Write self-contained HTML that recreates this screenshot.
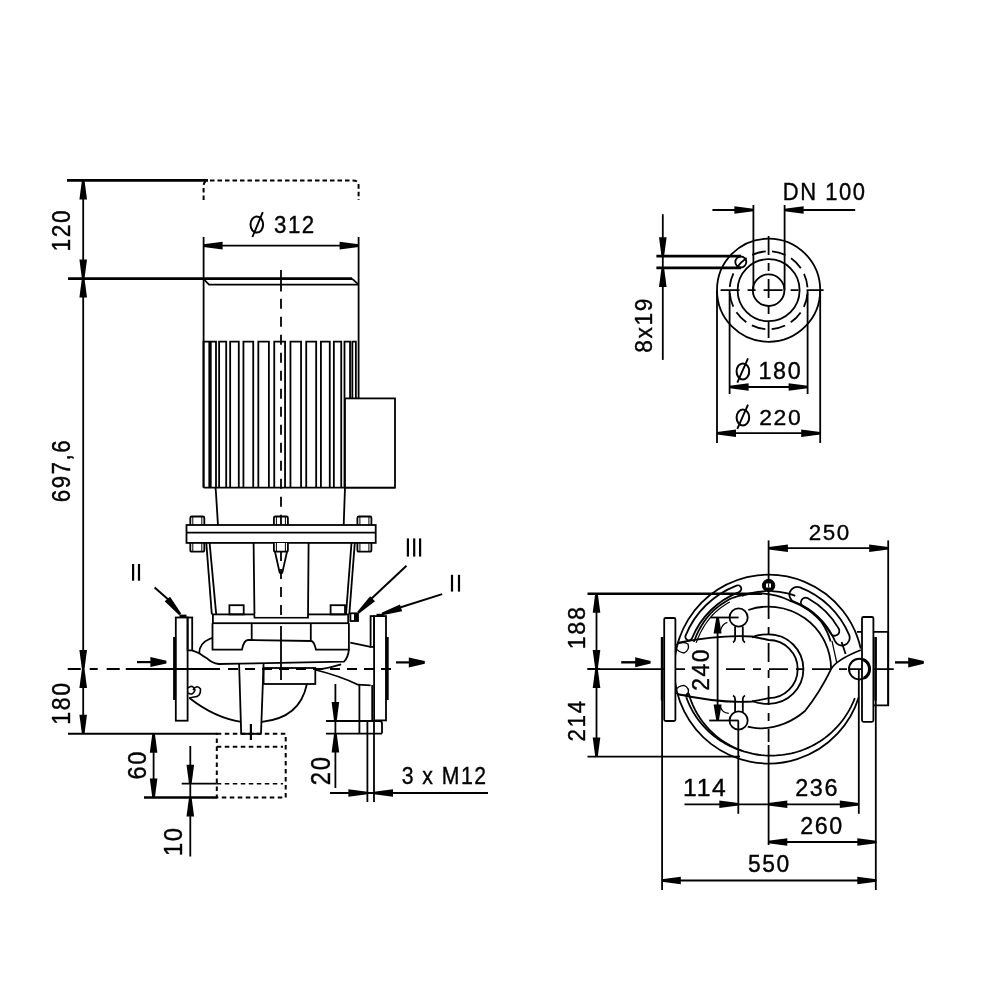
<!DOCTYPE html>
<html><head><meta charset="utf-8"><style>
html,body{margin:0;padding:0;background:#fff;width:1000px;height:1000px;overflow:hidden}
svg{display:block;will-change:transform}
text{font-family:"Liberation Sans",sans-serif;fill:#000;stroke:#000;stroke-width:1.6px}
</style></head><body>
<svg width="1000" height="1000" viewBox="0 0 1000 1000" stroke="#000" fill="none" stroke-linecap="butt">
<line x1="83.20" y1="180.40" x2="83.20" y2="733.80" stroke-width="1.8" />
<line x1="67.00" y1="180.40" x2="208.00" y2="180.40" stroke-width="2.7" />
<line x1="68.00" y1="278.60" x2="352.00" y2="278.60" stroke-width="2.7" />
<path d="M352,278.6 L358.6,284.6" stroke-width="1.8" fill="none" />
<path d="M203.6,279 L209,284.6 L358.6,284.6" stroke-width="1.8" fill="none" />
<path d="M84.50,180.40 L87.00,199.40 L79.40,199.40 L81.90,180.40 Z" fill="#000" stroke="none"/>
<path d="M81.90,278.60 L79.40,259.60 L87.00,259.60 L84.50,278.60 Z" fill="#000" stroke="none"/>
<path d="M84.50,278.60 L87.00,297.60 L79.40,297.60 L81.90,278.60 Z" fill="#000" stroke="none"/>
<path d="M81.90,669.00 L79.40,650.00 L87.00,650.00 L84.50,669.00 Z" fill="#000" stroke="none"/>
<path d="M84.50,669.00 L87.00,688.00 L79.40,688.00 L81.90,669.00 Z" fill="#000" stroke="none"/>
<path d="M81.90,733.80 L79.40,714.80 L87.00,714.80 L84.50,733.80 Z" fill="#000" stroke="none"/>
<path d="M210,180.4 L353,180.4 Q358.6,180.4 358.6,186 L358.6,200" stroke-width="2" fill="none" stroke-dasharray="4.5,3"/>
<path d="M203.6,200 L203.6,186 Q203.6,181 208,180.4" stroke-width="2" fill="none" stroke-dasharray="4.5,3"/>
<line x1="203.60" y1="237.00" x2="203.60" y2="487.60" stroke-width="1.8" />
<line x1="358.60" y1="237.00" x2="358.60" y2="487.60" stroke-width="1.8" />
<line x1="203.60" y1="245.60" x2="358.60" y2="245.60" stroke-width="1.8" />
<path d="M203.60,244.30 L222.60,241.80 L222.60,249.40 L203.60,246.90 Z" fill="#000" stroke="none"/>
<path d="M358.60,246.90 L339.60,249.40 L339.60,241.80 L358.60,244.30 Z" fill="#000" stroke="none"/>
<line x1="281.00" y1="269.90" x2="281.00" y2="291.50" stroke-width="1.8" />
<line x1="281.00" y1="298.70" x2="281.00" y2="616.00" stroke-width="1.8" stroke-dasharray="10,8"/>
<path d="M203.50,487.6 L203.50,341.7 L209.30,341.7 L209.30,487.6" stroke-width="1.8" fill="none" />
<path d="M210.76,487.6 L210.76,341.7 L216.00,341.7 L216.00,487.6" stroke-width="1.8" fill="none" />
<path d="M219.11,487.6 L219.11,341.7 L226.20,341.7 L226.20,487.6" stroke-width="1.8" fill="none" />
<path d="M230.16,487.6 L230.16,341.7 L238.79,341.7 L238.79,487.6" stroke-width="1.8" fill="none" />
<path d="M243.43,487.6 L243.43,341.7 L253.23,341.7 L253.23,487.6" stroke-width="1.8" fill="none" />
<path d="M258.34,487.6 L258.34,341.7 L268.88,341.7 L268.88,487.6" stroke-width="1.8" fill="none" />
<path d="M274.25,487.6 L274.25,341.7 L285.06,341.7 L285.06,487.6" stroke-width="1.8" fill="none" />
<path d="M290.44,487.6 L290.44,341.7 L301.06,341.7 L301.06,487.6" stroke-width="1.8" fill="none" />
<path d="M306.23,487.6 L306.23,341.7 L316.18,341.7 L316.18,487.6" stroke-width="1.8" fill="none" />
<path d="M320.92,487.6 L320.92,341.7 L329.77,341.7 L329.77,487.6" stroke-width="1.8" fill="none" />
<path d="M333.85,487.6 L333.85,341.7 L341.23,341.7 L341.23,487.6" stroke-width="1.8" fill="none" />
<path d="M344.48,487.6 L344.48,341.7 L350.05,341.7 L350.05,487.6" stroke-width="1.8" fill="none" />
<path d="M352.34,487.6 L352.34,341.7 L355.86,341.7 L355.86,487.6" stroke-width="1.8" fill="none" />
<line x1="203.60" y1="487.60" x2="395.00" y2="487.60" stroke-width="1.8" />
<rect x="345.00" y="398.40" width="50.00" height="89.20" rx="0" stroke-width="1.8" fill="#fff" />
<line x1="215.60" y1="487.60" x2="218.00" y2="525.00" stroke-width="1.8" />
<line x1="345.00" y1="487.60" x2="343.70" y2="525.00" stroke-width="1.8" />
<rect x="186.50" y="525.00" width="189.20" height="17.90" rx="0" stroke-width="1.8" fill="#fff" />
<line x1="186.50" y1="532.60" x2="375.70" y2="532.60" stroke-width="1.8" />
<path d="M190.3,525 L190.3,518 Q190.3,516.5 191.8,516.5 L202.8,516.5 Q204.3,516.5 204.3,518 L204.3,525" stroke-width="1.8" fill="none" />
<line x1="192.80" y1="517.00" x2="192.80" y2="525.00" stroke-width="1" />
<line x1="201.80" y1="517.00" x2="201.80" y2="525.00" stroke-width="1" />
<path d="M190.3,542.9 L190.3,550 Q190.3,551.7 191.8,551.7 L202.8,551.7 Q204.3,551.7 204.3,550 L204.3,542.9" stroke-width="1.8" fill="none" />
<line x1="192.80" y1="543.00" x2="192.80" y2="551.00" stroke-width="1" />
<line x1="201.80" y1="543.00" x2="201.80" y2="551.00" stroke-width="1" />
<path d="M273.9,525 L273.9,518 Q273.9,516.5 275.4,516.5 L286.4,516.5 Q287.9,516.5 287.9,518 L287.9,525" stroke-width="1.8" fill="none" />
<line x1="276.40" y1="517.00" x2="276.40" y2="525.00" stroke-width="1" />
<line x1="285.40" y1="517.00" x2="285.40" y2="525.00" stroke-width="1" />
<path d="M273.9,542.9 L273.9,550 Q273.9,551.7 275.4,551.7 L286.4,551.7 Q287.9,551.7 287.9,550 L287.9,542.9" stroke-width="1.8" fill="none" />
<line x1="276.40" y1="543.00" x2="276.40" y2="551.00" stroke-width="1" />
<line x1="285.40" y1="543.00" x2="285.40" y2="551.00" stroke-width="1" />
<path d="M357.4,525 L357.4,518 Q357.4,516.5 358.9,516.5 L369.9,516.5 Q371.4,516.5 371.4,518 L371.4,525" stroke-width="1.8" fill="none" />
<line x1="359.90" y1="517.00" x2="359.90" y2="525.00" stroke-width="1" />
<line x1="368.90" y1="517.00" x2="368.90" y2="525.00" stroke-width="1" />
<path d="M357.4,542.9 L357.4,550 Q357.4,551.7 358.9,551.7 L369.9,551.7 Q371.4,551.7 371.4,550 L371.4,542.9" stroke-width="1.8" fill="none" />
<line x1="359.90" y1="543.00" x2="359.90" y2="551.00" stroke-width="1" />
<line x1="368.90" y1="543.00" x2="368.90" y2="551.00" stroke-width="1" />
<line x1="206.30" y1="542.90" x2="211.80" y2="614.40" stroke-width="1.8" />
<line x1="209.60" y1="542.90" x2="216.20" y2="614.40" stroke-width="1.8" />
<line x1="354.80" y1="542.90" x2="349.30" y2="614.40" stroke-width="1.8" />
<line x1="351.50" y1="542.90" x2="346.00" y2="614.40" stroke-width="1.8" />
<rect x="212.90" y="614.40" width="135.30" height="8.80" rx="0" stroke-width="1.8" fill="#fff" />
<path d="M253.6,542.9 L254.5,617.7 L308,617.7 L308.6,542.9 Z" stroke-width="1.8" fill="#fff" />
<path d="M255.5,615.2 L307,615.2" stroke-width="3" fill="none" stroke="#fff"/>
<path d="M273.9,542.9 L273.9,550 Q273.9,551.7 275.4,551.7 L286.4,551.7 Q287.9,551.7 287.9,550 L287.9,542.9" stroke-width="1.8" fill="#fff" />
<line x1="276.40" y1="543.00" x2="276.40" y2="551.00" stroke-width="1" />
<line x1="285.40" y1="543.00" x2="285.40" y2="551.00" stroke-width="1" />
<line x1="281.00" y1="551.00" x2="281.00" y2="616.00" stroke-width="1.8" stroke-dasharray="10,8"/>
<line x1="281.00" y1="626.00" x2="281.00" y2="680.00" stroke-width="1.8" />
<path d="M275,551.7 L279.5,572 Q281,575 282.5,572 L287,551.7" stroke-width="1.8" fill="none" />
<rect x="229.40" y="605.20" width="14.30" height="9.20" rx="0" stroke-width="1.8" fill="none" />
<rect x="330.60" y="605.20" width="14.40" height="9.20" rx="0" stroke-width="1.8" fill="none" />
<rect x="350.40" y="613.30" width="7.60" height="7.70" rx="0" stroke-width="1.8" fill="none" />
<rect x="354.00" y="613.50" width="4.00" height="7.30" rx="0" stroke-width="0" fill="#000" />
<path d="M212.5,623.2 L212.5,649.7 L241.9,649.7 Q244,640 248,640 L311,641 Q314,641 316,649.7 L348.9,649.7 L348.9,623.2" stroke-width="1.8" fill="none" />
<line x1="251.70" y1="623.20" x2="251.70" y2="640.00" stroke-width="1.8" />
<line x1="310.80" y1="623.20" x2="310.80" y2="641.00" stroke-width="1.8" />
<path d="M192.2,650.4 L199.2,653.2 Q203,656 207.6,658.8 Q212,663 218.8,664 L239.8,663.7 L344,661.6 Q348,658 348.9,649.7" stroke-width="1.8" fill="none" />
<path d="M199.2,653.2 Q199,643.4 210.4,638.5 L212.5,638" stroke-width="1.8" fill="none" />
<path d="M341.2,664.4 Q330,668 316,670" stroke-width="1.8" fill="none" />
<rect x="263.60" y="668.00" width="51.70" height="16.00" rx="0" stroke-width="1.8" fill="none" />
<line x1="239.10" y1="663.70" x2="241.20" y2="733.80" stroke-width="1.8" />
<line x1="263.60" y1="663.00" x2="261.00" y2="733.80" stroke-width="1.8" />
<path d="M189.4,698 Q215,718 241.2,721.8" stroke-width="1.8" fill="none" />
<path d="M306.9,684 Q300,718 262,721.8" stroke-width="1.8" fill="none" />
<path d="M188,688 Q193,684 195,690 Q193,696 188,693 M193,690 Q197,684 200.5,689 Q201,697 194,697 L189,698" stroke-width="1.6" fill="none" />
<line x1="370.60" y1="646.90" x2="350.30" y2="642.70" stroke-width="1.8" />
<path d="M316,670 Q340,676 358,684.7 L370.6,685.4" stroke-width="1.8" fill="none" />
<line x1="359.40" y1="685.00" x2="359.40" y2="733.70" stroke-width="1.8" />
<path d="M359.4,721 L380,721 Q382,721 382,724 L382,733.6" stroke-width="1.8" fill="none" />
<rect x="175.80" y="617.50" width="11.80" height="103.20" rx="0" stroke-width="1.8" fill="#fff" />
<line x1="174.60" y1="637.00" x2="174.60" y2="700.00" stroke-width="3" />
<rect x="187.60" y="617.50" width="4.60" height="32.90" rx="0" stroke-width="1.8" fill="none" />
<rect x="374.10" y="616.10" width="11.90" height="104.30" rx="0" stroke-width="1.8" fill="#fff" />
<line x1="387.20" y1="637.00" x2="387.20" y2="700.00" stroke-width="3" />
<rect x="370.60" y="616.10" width="3.50" height="30.80" rx="0" stroke-width="1.8" fill="none" />
<line x1="372.20" y1="685.00" x2="372.20" y2="720.40" stroke-width="1.8" />
<line x1="67.70" y1="669.00" x2="125.80" y2="669.00" stroke-width="1.8" stroke-dasharray="13,9,8,9"/>
<line x1="125.80" y1="669.00" x2="220.00" y2="669.00" stroke-width="1.8" />
<line x1="228.00" y1="669.00" x2="392.00" y2="669.00" stroke-width="1.8" stroke-dasharray="10,7"/>
<line x1="137.00" y1="662.10" x2="155.00" y2="662.10" stroke-width="2.2" />
<path d="M166.40,663.40 L150.40,667.10 L150.40,657.10 L166.40,660.80 Z" fill="#000" stroke="none"/>
<line x1="396.00" y1="662.40" x2="412.00" y2="662.40" stroke-width="2.2" />
<path d="M424.80,663.70 L408.80,667.40 L408.80,657.40 L424.80,661.10 Z" fill="#000" stroke="none"/>
<line x1="154.60" y1="587.40" x2="170.00" y2="601.00" stroke-width="2" />
<path d="M179.20,615.24 L164.67,601.32 L170.04,596.82 L181.20,613.56 Z" fill="#000" stroke="none"/>
<line x1="406.50" y1="565.70" x2="370.00" y2="600.00" stroke-width="2" />
<path d="M357.29,611.67 L370.12,596.16 L374.99,601.19 L359.11,613.53 Z" fill="#000" stroke="none"/>
<line x1="442.20" y1="594.10" x2="400.00" y2="607.50" stroke-width="2" />
<path d="M381.60,612.76 L399.96,604.53 L402.11,611.19 L382.40,615.24 Z" fill="#000" stroke="none"/>
<line x1="68.00" y1="733.80" x2="216.80" y2="733.80" stroke-width="1.9" />
<path d="M216.8,733.8 L285.7,733.8 L285.7,797.5 L216.8,797.5 Z" stroke-width="2" fill="none" stroke-dasharray="4.5,3.5"/>
<line x1="216.80" y1="746.80" x2="283.00" y2="746.80" stroke-width="2" stroke-dasharray="4.5,3.5"/>
<line x1="216.80" y1="783.70" x2="283.00" y2="783.70" stroke-width="1.6" stroke-dasharray="4.5,3.5"/>
<line x1="240.50" y1="733.80" x2="261.50" y2="733.80" stroke-width="2" />
<line x1="144.00" y1="797.50" x2="216.80" y2="797.50" stroke-width="2.7" />
<line x1="181.70" y1="783.70" x2="216.80" y2="783.70" stroke-width="1.8" />
<line x1="250.90" y1="724.00" x2="250.90" y2="740.00" stroke-width="2.2" />
<line x1="153.60" y1="733.80" x2="153.60" y2="797.50" stroke-width="1.8" />
<path d="M154.90,733.80 L157.40,752.80 L149.80,752.80 L152.30,733.80 Z" fill="#000" stroke="none"/>
<path d="M152.30,797.50 L149.80,778.50 L157.40,778.50 L154.90,797.50 Z" fill="#000" stroke="none"/>
<line x1="190.30" y1="746.00" x2="190.30" y2="856.50" stroke-width="1.8" />
<path d="M189.00,783.70 L186.50,764.70 L194.10,764.70 L191.60,783.70 Z" fill="#000" stroke="none"/>
<path d="M191.60,797.50 L194.10,816.50 L186.50,816.50 L189.00,797.50 Z" fill="#000" stroke="none"/>
<line x1="326.00" y1="721.00" x2="382.00" y2="721.00" stroke-width="1.8" />
<line x1="326.00" y1="733.60" x2="382.00" y2="733.60" stroke-width="1.8" />
<line x1="335.40" y1="684.00" x2="335.40" y2="788.00" stroke-width="1.8" />
<path d="M334.10,721.00 L331.60,702.00 L339.20,702.00 L336.70,721.00 Z" fill="#000" stroke="none"/>
<path d="M336.70,733.60 L339.20,752.60 L331.60,752.60 L334.10,733.60 Z" fill="#000" stroke="none"/>
<line x1="367.40" y1="720.00" x2="367.40" y2="802.00" stroke-width="1.8" />
<line x1="374.00" y1="720.00" x2="374.00" y2="802.00" stroke-width="1.8" />
<line x1="330.00" y1="793.00" x2="488.00" y2="793.00" stroke-width="1.8" />
<path d="M367.40,794.30 L348.40,796.80 L348.40,789.20 L367.40,791.70 Z" fill="#000" stroke="none"/>
<path d="M374.00,791.70 L393.00,789.20 L393.00,796.80 L374.00,794.30 Z" fill="#000" stroke="none"/>
<circle cx="768.60" cy="290.20" r="51.60" stroke-width="1.8" fill="none" />
<circle cx="768.60" cy="290.20" r="39.00" stroke-width="1.8" fill="none" stroke-dasharray="14,6.42" stroke-dashoffset="17.21"/>
<circle cx="768.60" cy="290.20" r="31.00" stroke-width="1.8" fill="none" />
<circle cx="768.60" cy="290.20" r="15.80" stroke-width="1.8" fill="none" />
<circle cx="740.80" cy="262.00" r="5.50" stroke-width="1.8" fill="none" />
<line x1="720.60" y1="290.20" x2="823.60" y2="290.20" stroke-width="1.8" stroke-dasharray="19,8,8,8"/>
<line x1="768.60" y1="236.00" x2="768.60" y2="338.00" stroke-width="1.8" stroke-dasharray="19,8,8,8"/>
<line x1="753.40" y1="205.00" x2="753.40" y2="290.20" stroke-width="1.8" />
<line x1="784.60" y1="205.00" x2="784.60" y2="290.20" stroke-width="1.8" />
<line x1="712.40" y1="210.00" x2="753.40" y2="210.00" stroke-width="1.8" />
<line x1="784.60" y1="210.00" x2="855.20" y2="210.00" stroke-width="1.8" />
<path d="M753.40,211.30 L734.40,213.80 L734.40,206.20 L753.40,208.70 Z" fill="#000" stroke="none"/>
<path d="M784.60,208.70 L803.60,206.20 L803.60,213.80 L784.60,211.30 Z" fill="#000" stroke="none"/>
<line x1="656.40" y1="256.20" x2="741.00" y2="256.20" stroke-width="2.7" />
<line x1="656.40" y1="267.90" x2="741.00" y2="267.90" stroke-width="2.7" />
<line x1="662.80" y1="214.20" x2="662.80" y2="359.90" stroke-width="1.8" />
<path d="M661.50,256.20 L659.00,237.20 L666.60,237.20 L664.10,256.20 Z" fill="#000" stroke="none"/>
<path d="M664.10,267.90 L666.60,286.90 L659.00,286.90 L661.50,267.90 Z" fill="#000" stroke="none"/>
<line x1="729.60" y1="290.20" x2="729.60" y2="394.00" stroke-width="1.8" />
<line x1="807.60" y1="290.20" x2="807.60" y2="394.00" stroke-width="1.8" />
<line x1="729.60" y1="387.00" x2="807.60" y2="387.00" stroke-width="1.8" />
<path d="M729.60,385.70 L748.60,383.20 L748.60,390.80 L729.60,388.30 Z" fill="#000" stroke="none"/>
<path d="M807.60,388.30 L788.60,390.80 L788.60,383.20 L807.60,385.70 Z" fill="#000" stroke="none"/>
<line x1="717.00" y1="290.20" x2="717.00" y2="443.00" stroke-width="1.8" />
<line x1="820.20" y1="290.20" x2="820.20" y2="443.00" stroke-width="1.8" />
<line x1="717.00" y1="433.20" x2="820.20" y2="433.20" stroke-width="1.8" />
<path d="M717.00,431.90 L736.00,429.40 L736.00,437.00 L717.00,434.50 Z" fill="#000" stroke="none"/>
<path d="M820.20,434.50 L801.20,437.00 L801.20,429.40 L820.20,431.90 Z" fill="#000" stroke="none"/>
<line x1="587.50" y1="593.70" x2="762.00" y2="593.70" stroke-width="2.4" />
<line x1="587.50" y1="668.90" x2="600.00" y2="668.90" stroke-width="1.8" />
<line x1="587.50" y1="756.60" x2="740.00" y2="756.60" stroke-width="1.8" />
<line x1="596.50" y1="593.70" x2="596.50" y2="756.60" stroke-width="1.8" />
<path d="M597.80,593.70 L600.30,612.70 L592.70,612.70 L595.20,593.70 Z" fill="#000" stroke="none"/>
<path d="M595.20,668.90 L592.70,649.90 L600.30,649.90 L597.80,668.90 Z" fill="#000" stroke="none"/>
<path d="M597.80,668.90 L600.30,687.90 L592.70,687.90 L595.20,668.90 Z" fill="#000" stroke="none"/>
<path d="M595.20,756.60 L592.70,737.60 L600.30,737.60 L597.80,756.60 Z" fill="#000" stroke="none"/>
<line x1="587.50" y1="669.10" x2="685.00" y2="669.10" stroke-width="1.8" />
<line x1="726.00" y1="669.10" x2="850.00" y2="669.10" stroke-width="1.8" stroke-dasharray="19,8,8,8"/>
<line x1="850.00" y1="669.10" x2="893.80" y2="669.10" stroke-width="1.8" />
<line x1="768.60" y1="540.40" x2="768.60" y2="600.00" stroke-width="1.8" />
<line x1="768.60" y1="600.00" x2="768.60" y2="742.00" stroke-width="1.8" stroke-dasharray="19,8,8,8"/>
<line x1="768.60" y1="745.00" x2="768.60" y2="845.00" stroke-width="1.8" />
<path d="M860.76,648.67 A94.4,94.4 0 1 0 858.73,697.17" stroke-width="1.8" fill="none" />
<path d="M830.67,641.47 L829.93,639.19 L829.13,636.91 L828.25,634.66 L827.28,632.43 L826.23,630.22 L825.10,628.05 L823.89,625.91 L822.59,623.80 L821.21,621.73 L819.56,619.89 L817.85,618.10 L816.07,616.38 L814.23,614.72 L812.33,613.12 L810.38,611.60 L808.37,610.13 L806.32,608.74 L804.21,607.42 L802.06,606.18 L799.86,605.00 L797.62,603.91 L795.35,602.89 L793.04,601.96 L790.69,601.10 L788.42,600.00 L786.09,598.97 L783.71,598.02 L781.29,597.15 L778.82,596.37 L776.32,595.67 L773.78,595.06 L771.20,594.53 L768.60,594.10 L765.97,593.79 L763.32,593.57 L760.65,593.45 L757.96,593.42 L755.27,593.48 L752.56,593.64 L749.85,593.90 L747.14,594.26 L744.43,594.71 L741.73,595.27 L739.03,595.92 L736.35,596.67 L733.69,597.52 L731.04,598.46 L728.58,599.78 L726.16,601.18 L723.79,602.66 L721.47,604.23 L719.20,605.87 L717.00,607.60 L714.85,609.40 L712.77,611.28 L710.79,613.28 L708.94,615.38 L707.16,617.55 L705.46,619.77 L703.84,622.05 L702.30,624.38 L700.85,626.76 L699.48,629.19 L698.20,631.67 L697.01,634.18 L695.90,636.73 L694.89,639.32 L693.71,641.84" stroke-width="1.8" fill="none" />
<path d="M729.83,601.94 L727.48,603.30 L725.18,604.73 L722.94,606.25 L720.74,607.84 L718.60,609.52 L716.52,611.26 L714.50,613.08 L712.59,615.01 L710.80,617.05 L709.08,619.15 L707.43,621.31 L705.86,623.52 L704.37,625.78 L702.97,628.09 L701.64,630.44 L700.41,632.84 L699.25,635.28 L698.19,637.75 L697.21,640.26 L696.06,642.70" stroke-width="1.2" fill="none" />
<path d="M688.84,693.48 L689.56,696.33 L690.48,699.11 L691.50,701.85 L692.61,704.57 L693.82,707.25 L695.13,709.88 L696.53,712.47 L698.02,715.01 L699.60,717.51 L701.27,719.94 L703.02,722.32 L704.86,724.64 L706.78,726.90 L708.78,729.09 L710.85,731.21 L713.01,733.25 L715.23,735.23 L717.53,737.12 L719.89,738.94 L722.32,740.67 L724.81,742.32 L727.35,743.89 L729.96,745.36 L732.61,746.74 L735.32,748.03 L738.07,749.22 L740.87,750.31 L743.71,751.30 L746.58,752.20 L749.49,752.99 L752.42,753.68 L755.38,754.26 L758.36,754.75 L761.36,755.13 L764.37,755.40 L767.39,755.57 L770.42,755.63 L773.45,755.59 L776.48,755.44 L779.51,755.18 L782.53,754.86 L785.55,754.45 L788.56,753.93 L791.55,753.31 L794.52,752.58 L797.47,751.75 L800.39,750.81 L803.29,749.77 L806.15,748.63 L808.97,747.38 L811.75,746.04 L814.48,744.59 L817.17,743.05 L819.80,741.42 L822.38,739.69 L824.90,737.86 L827.36,735.95 L829.76,733.95 L832.09,731.86 L834.34,729.69 L836.52,727.44 L838.63,725.11 L840.65,722.71 L842.59,720.23 L844.45,717.68 L846.21,715.06 L847.89,712.38 L849.48,709.64 L850.97,706.84 L852.36,703.99 L853.65,701.08 L854.85,698.13" stroke-width="1.8" fill="none" />
<path d="M686.34,697.42 L687.29,699.93 L688.31,702.41 L689.41,704.86 L690.58,707.26 L691.83,709.63 L693.15,711.96 L694.54,714.25 L696.00,716.49 L697.52,718.68 L699.12,720.83 L700.77,722.92 L702.49,724.96 L704.28,726.95 L706.12,728.88 L708.02,730.75 L709.97,732.56 L711.98,734.31 L714.04,736.00 L716.15,737.62 L718.31,739.17 L720.52,740.66 L722.77,742.07 L725.06,743.42 L727.39,744.69 L729.75,745.89 L732.15,747.02 L734.59,748.07 L737.05,749.05 L739.55,749.93 L742.07,750.75" stroke-width="1.8" fill="none" />
<path d="M688.84,693.48 Q686.09,692.95 686.34,697.42" stroke-width="1.8" fill="none" />
<path d="M748.25,610.01 A62.5,62.5 0 0 1 831.10,669.10" stroke-width="1.8" fill="none" />
<path d="M860.8,650 Q836,660 831.1,669.1 Q820,692 805,711 Q785,728 760,728.4 Q752,728 747.7,726.7" stroke-width="1.8" fill="none" />
<path d="M677,643 Q720,634.5 752,636.5 Q760,638 768.6,640 A29,29 0 0 1 768.6,698.2 Q760,700 752,701.5 Q720,703.5 677,694" stroke-width="1.8" fill="none" />
<path d="M752,637.5 Q758,634.3 768.6,634.3 A34.8,34.8 0 0 1 768.6,703.9 Q758,703.9 752,701" stroke-width="1.8" fill="none" />
<path d="M736.53,585.54 A89.5,89.5 0 0 0 685.62,635.57 A3.5,3.5 0 0 0 692.11,638.19 A82.5,82.5 0 0 1 739.03,592.08 A3.5,3.5 0 0 0 736.53,585.54 Z" stroke-width="1.8" fill="none" />
<path d="M799.96,587.41 A87.5,87.5 0 0 1 849.14,634.91 A7.75,7.75 0 0 1 834.88,640.97 A72,72 0 0 0 794.40,601.88 A7.75,7.75 0 0 1 799.96,587.41 Z" stroke-width="1.8" fill="none" />
<path d="M807.87,598.26 A81,81 0 0 1 838.75,628.60 A4.75,4.75 0 0 1 830.52,633.35 A71.5,71.5 0 0 0 803.26,606.56 A4.75,4.75 0 0 1 807.87,598.26 Z" stroke-width="1.8" fill="none" />
<path d="M771.32,591.15 L774.04,591.29 L776.75,591.53 L779.46,591.86 L782.14,592.28 L784.82,592.80 L787.47,593.42 L790.10,594.12 L792.70,594.92 L795.28,595.80" stroke-width="1.8" fill="none" />
<path d="M765.88,591.15 L763.16,591.29 L760.45,591.53 L757.74,591.86 L755.06,592.28 L752.38,592.80 L749.73,593.42 L747.10,594.12 L744.50,594.92 L741.92,595.80" stroke-width="1.8" fill="none" />
<line x1="832.00" y1="641.00" x2="836.80" y2="663.00" stroke-width="1.2" />
<line x1="841.60" y1="642.00" x2="845.60" y2="654.00" stroke-width="1.8" />
<circle cx="768.60" cy="585.50" r="6.20" stroke-width="1" fill="#000" />
<rect x="766.00" y="583.50" width="5.00" height="4.00" rx="0" stroke-width="0" fill="#fff" stroke="none"/>
<line x1="768.60" y1="583.50" x2="768.60" y2="587.50" stroke-width="1" />
<rect x="664.20" y="618.00" width="11.20" height="103.00" rx="1.5" stroke-width="1.8" fill="#fff" />
<line x1="662.10" y1="637.00" x2="662.10" y2="700.50" stroke-width="2.6" />
<line x1="662.10" y1="700.00" x2="662.10" y2="890.00" stroke-width="1.8" />
<path d="M857,631.8 L888.2,631.8 L888.2,705.3 L873.5,705.3" stroke-width="1.8" fill="none" />
<rect x="862.00" y="617.00" width="11.40" height="104.80" rx="1.5" stroke-width="1.8" fill="#fff" />
<line x1="875.60" y1="637.00" x2="875.60" y2="700.50" stroke-width="2.6" />
<line x1="875.80" y1="700.00" x2="875.80" y2="890.00" stroke-width="1.8" />
<line x1="888.20" y1="540.40" x2="888.20" y2="705.30" stroke-width="1.8" />
<line x1="768.90" y1="548.20" x2="888.20" y2="548.20" stroke-width="1.8" />
<path d="M768.90,546.90 L787.90,544.40 L787.90,552.00 L768.90,549.50 Z" fill="#000" stroke="none"/>
<path d="M888.20,549.50 L869.20,552.00 L869.20,544.40 L888.20,546.90 Z" fill="#000" stroke="none"/>
<circle cx="738.60" cy="617.50" r="9.10" stroke-width="1.8" fill="none" />
<circle cx="738.60" cy="720.50" r="9.10" stroke-width="1.8" fill="none" />
<line x1="710.60" y1="617.50" x2="738.60" y2="617.50" stroke-width="1.8" />
<line x1="709.20" y1="720.50" x2="738.60" y2="720.50" stroke-width="1.8" />
<line x1="717.60" y1="617.50" x2="717.60" y2="720.50" stroke-width="1.8" />
<path d="M718.90,617.50 L721.60,633.50 L713.60,633.50 L716.30,617.50 Z" fill="#000" stroke="none"/>
<path d="M716.30,720.50 L713.60,704.50 L721.60,704.50 L718.90,720.50 Z" fill="#000" stroke="none"/>
<rect x="690.00" y="648.00" width="21.00" height="44.00" rx="0" stroke-width="0" fill="#fff" stroke="none"/>
<path d="M735.1,626.5 L735.1,639 Q735.1,641.3 733,642.5" stroke-width="1.8" fill="none" />
<path d="M742.8,626.5 L742.8,639 Q742.8,641.3 745,642.5" stroke-width="1.8" fill="none" />
<path d="M735.1,712.5 L735.1,699 Q735.1,696.6 733,695.5" stroke-width="1.8" fill="none" />
<path d="M742.8,712.5 L742.8,699 Q742.8,696.6 745,695.5" stroke-width="1.8" fill="none" />
<path d="M720.4,630.8 Q722,624 727.4,622.4" stroke-width="1.2" fill="none" />
<path d="M720.4,706.4 Q722,713 728.8,713.4" stroke-width="1.2" fill="none" />
<path d="M676,645 Q682,641 688,644 Q690,650 684,653 Q678,652 676,648" stroke-width="1.3" fill="none" />
<path d="M676,693 Q682,697 688,694 Q690,688 684,685.4 Q678,686 676,690" stroke-width="1.3" fill="none" />
<circle cx="859.30" cy="669.10" r="10.30" stroke-width="2" fill="none" />
<path d="M863,659.5 A10.3,10.3 0 0 1 864,678.2" stroke-width="3" fill="none" />
<line x1="621.20" y1="662.30" x2="637.00" y2="662.30" stroke-width="2.4" />
<path d="M650.60,663.60 L635.20,667.30 L635.20,657.30 L650.60,661.00 Z" fill="#000" stroke="none"/>
<line x1="895.00" y1="662.40" x2="910.00" y2="662.40" stroke-width="2.4" />
<path d="M923.80,663.70 L908.20,667.40 L908.20,657.40 L923.80,661.10 Z" fill="#000" stroke="none"/>
<line x1="738.30" y1="720.50" x2="738.30" y2="813.80" stroke-width="1.8" />
<line x1="858.80" y1="669.00" x2="858.80" y2="813.80" stroke-width="1.8" />
<line x1="684.50" y1="804.30" x2="858.80" y2="804.30" stroke-width="1.8" />
<path d="M738.30,805.60 L719.30,808.10 L719.30,800.50 L738.30,803.00 Z" fill="#000" stroke="none"/>
<path d="M768.30,803.00 L787.30,800.50 L787.30,808.10 L768.30,805.60 Z" fill="#000" stroke="none"/>
<path d="M858.80,805.60 L839.80,808.10 L839.80,800.50 L858.80,803.00 Z" fill="#000" stroke="none"/>
<line x1="768.30" y1="842.00" x2="876.30" y2="842.00" stroke-width="1.8" />
<path d="M768.30,840.70 L787.30,838.20 L787.30,845.80 L768.30,843.30 Z" fill="#000" stroke="none"/>
<path d="M876.30,843.30 L857.30,845.80 L857.30,838.20 L876.30,840.70 Z" fill="#000" stroke="none"/>
<line x1="661.80" y1="880.50" x2="876.30" y2="880.50" stroke-width="1.8" />
<path d="M661.80,879.20 L680.80,876.70 L680.80,884.30 L661.80,881.80 Z" fill="#000" stroke="none"/>
<path d="M876.30,881.80 L857.30,884.30 L857.30,876.70 L876.30,879.20 Z" fill="#000" stroke="none"/>
<rect x="179.50" y="614.60" width="7.00" height="2.80" rx="0" stroke-width="0" fill="#000" stroke="none"/>
<rect x="376.50" y="613.80" width="7.00" height="2.80" rx="0" stroke-width="0" fill="#000" stroke="none"/>
<text transform="translate(69.75,251.57) rotate(-90) scale(0.2278,0.2535)" font-size="100" letter-spacing="7">120</text>
<text transform="translate(70.14,502.32) rotate(-90) scale(0.2230,0.2592)" font-size="100" letter-spacing="7">697,6</text>
<text transform="translate(69.75,724.75) rotate(-90) scale(0.2308,0.2535)" font-size="100" letter-spacing="7">180</text>
<text transform="translate(145.65,779.48) rotate(-90) scale(0.2367,0.2521)" font-size="100" letter-spacing="7">60</text>
<text transform="translate(182.35,856.11) rotate(-90) scale(0.2387,0.2507)" font-size="100" letter-spacing="7">10</text>
<text transform="translate(329.73,785.19) rotate(-90) scale(0.2385,0.2676)" font-size="100" letter-spacing="7">20</text>
<text transform="translate(401.65,783.76) scale(0.2121,0.2394)" font-size="100" letter-spacing="7">3 x M12</text>
<text transform="translate(273.91,233.15) scale(0.2233,0.2479)" font-size="100" letter-spacing="7">312</text>
<ellipse cx="256.8" cy="224.6" rx="6.3" ry="8.0" stroke-width="2" fill="none"/>
<line x1="262.80" y1="212.20" x2="252.40" y2="237.00" stroke-width="1.9" />
<text transform="translate(782.74,199.76) scale(0.2196,0.2394)" font-size="100" letter-spacing="7">DN 100</text>
<text transform="translate(651.75,352.81) rotate(-90) scale(0.2275,0.2479)" font-size="100" letter-spacing="7">8x19</text>
<text transform="translate(758.43,379.47) scale(0.2337,0.2338)" font-size="100" letter-spacing="7">180</text>
<ellipse cx="742.9" cy="371.4" rx="6.3" ry="8.0" stroke-width="2" fill="none"/>
<line x1="748.00" y1="358.40" x2="737.30" y2="382.60" stroke-width="1.9" />
<text transform="translate(759.15,425.37) scale(0.2297,0.2282)" font-size="100" letter-spacing="7">220</text>
<ellipse cx="742.9" cy="417.5" rx="6.3" ry="8.0" stroke-width="2" fill="none"/>
<line x1="748.00" y1="404.70" x2="737.30" y2="428.90" stroke-width="1.9" />
<text transform="translate(585.36,649.27) rotate(-90) scale(0.2339,0.2408)" font-size="100" letter-spacing="7">188</text>
<text transform="translate(585.36,741.52) rotate(-90) scale(0.2249,0.2408)" font-size="100" letter-spacing="7">214</text>
<text transform="translate(708.96,690.74) rotate(-90) scale(0.2279,0.2366)" font-size="100" letter-spacing="7">240</text>
<text transform="translate(808.68,540.17) scale(0.2238,0.2268)" font-size="100" letter-spacing="7">250</text>
<text transform="translate(683.02,796.06) scale(0.2469,0.2366)" font-size="100" letter-spacing="7">114</text>
<text transform="translate(795.13,796.06) scale(0.2339,0.2366)" font-size="100" letter-spacing="7">236</text>
<text transform="translate(800.14,833.56) scale(0.2326,0.2366)" font-size="100" letter-spacing="7">260</text>
<text transform="translate(747.89,872.25) scale(0.2283,0.2465)" font-size="100" letter-spacing="7">550</text>
<rect x="132.00" y="564.00" width="2.2" height="16.70" fill="#000" stroke="none"/>
<rect x="137.90" y="564.00" width="2.2" height="16.70" fill="#000" stroke="none"/>
<rect x="406.80" y="538.40" width="2.2" height="18.20" fill="#000" stroke="none"/>
<rect x="413.10" y="538.40" width="2.2" height="18.20" fill="#000" stroke="none"/>
<rect x="419.00" y="538.40" width="2.2" height="18.20" fill="#000" stroke="none"/>
<rect x="450.90" y="574.80" width="2.2" height="16.80" fill="#000" stroke="none"/>
<rect x="457.90" y="574.80" width="2.2" height="16.80" fill="#000" stroke="none"/>
</svg></body></html>
